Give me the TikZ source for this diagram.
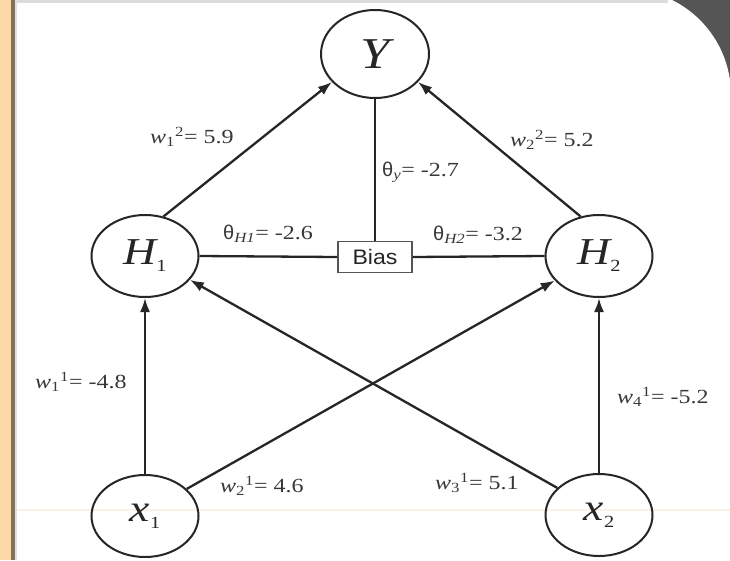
\documentclass[tikz,border=0pt]{standalone}
\usepackage{fontspec}
\usetikzlibrary{shapes.geometric,arrows.meta}
\newfontfamily\labf[FakeStretch=1.2]{Liberation Serif}
\newfontfamily\nodef[FakeStretch=1.2]{Liberation Serif}
\newfontfamily\sansf[FakeStretch=1.1]{Liberation Sans}
\newfontfamily\thetf{Liberation Sans}
\definecolor{edgec}{HTML}{262626}
\definecolor{labc}{HTML}{383838}
\definecolor{orangec}{HTML}{FCD8A6}
\definecolor{brownc}{HTML}{807262}
\definecolor{darkc}{HTML}{555555}
\definecolor{topc}{HTML}{DCDCDC}
\definecolor{faintc}{HTML}{FDF1E3}
\newcommand{\thet}{{\thetf θ}}
\tikzset{
  neuron/.style={ellipse, draw=edgec, line width=2pt, minimum width=107pt, minimum height=82pt, inner sep=0pt, font=\nodef\fontsize{38}{40}\selectfont\itshape, text=edgec},
  biasbox/.style={draw=darkc, line width=1.2pt, minimum width=74pt, minimum height=31pt, inner sep=0pt, font=\sansf\fontsize{21}{23}\selectfont, text=edgec},
  conn/.style={draw=edgec, line width=2.3pt},
  arr/.style={conn, -{Latex[length=14pt,width=10pt]}},
  wlab/.style={anchor=west, inner sep=0pt, font=\labf\fontsize{20}{22}\selectfont, text=labc}
}
\newcommand{\nsub}[1]{\raisebox{-7pt}{\upshape\fontsize{17}{18}\selectfont #1}}
\begin{document}
\begin{tikzpicture}[x=1pt,y=-1pt]
\useasboundingbox (0,0) rectangle (730,560);
% background
\fill[white] (0,0) rectangle (730,560);
\fill[topc] (0,0) rectangle (730,3);
\begin{scope}
  \clip (600,0) rectangle (730,200);
  \fill[darkc] (600,0) rectangle (730,200);
  \fill[white] (625,95) circle (106);
  \fill[white] (600,95) rectangle (730,200);
  \fill[white] (600,3) rectangle (660,100);
  \fill[topc] (600,0) rectangle (668,3);
\end{scope}
\fill[orangec] (0,0) rectangle (11,560);
\fill[brownc] (11,0) rectangle (15,560);
\fill[black!12] (15,0) rectangle (17,560);
\draw[faintc, line width=1.2pt] (17,510) -- (730,510);
% nodes
\node[neuron, minimum width=108pt, minimum height=88pt, font=\nodef\fontsize{44}{46}\selectfont\itshape] (Y) at (375,54) {Y};
\node[neuron] (H1) at (145,256) {H\nsub{1}};
\node[neuron] (H2) at (599,256) {H\nsub{2}};
\node[neuron] (X1) at (145,516) {x\nsub{1}};
\node[neuron] (X2) at (599,515) {x\nsub{2}};
\node[biasbox] (B) at (375,257) {Bias};
% connectors
\draw[arr] (H1.65) -- (Y.213);
\draw[arr] (H2.115) -- (Y.327);
\draw[conn] (Y.south) -- (B.north);
\draw[conn] (B.west) -- (H1.east);
\draw[conn] (B.east) -- (H2.west);
\draw[arr] (X1.90) -- (H1.270);
\draw[arr] (X2.90) -- (H2.270);
\draw[arr] (X1.33) -- (H2.209);
\draw[arr] (X2.147) -- (H1.332);
% labels
\node[wlab] (l1) at (150,137) {\textit{w}\textsubscript{1}\textsuperscript{2}= 5.9};
\node[wlab] (l2) at (510,140) {\textit{w}\textsubscript{2}\textsuperscript{2}= 5.2};
\node[wlab] (l3) at (382,172) {\thet\textsubscript{\textit{y}}= -2.7};
\node[wlab] (l4) at (223,234) {\thet\textsubscript{\textit{H1}}= -2.6};
\node[wlab] (l5) at (433,235) {\thet\textsubscript{\textit{H2}}= -3.2};
\node[wlab] (l6) at (35,382) {\textit{w}\textsubscript{1}\textsuperscript{1}= -4.8};
\node[wlab] (l7) at (220,486) {\textit{w}\textsubscript{2}\textsuperscript{1}= 4.6};
\node[wlab] (l8) at (435,483) {\textit{w}\textsubscript{3}\textsuperscript{1}= 5.1};
\node[wlab] (l9) at (617,397) {\textit{w}\textsubscript{4}\textsuperscript{1}= -5.2};
\end{tikzpicture}
\end{document}
